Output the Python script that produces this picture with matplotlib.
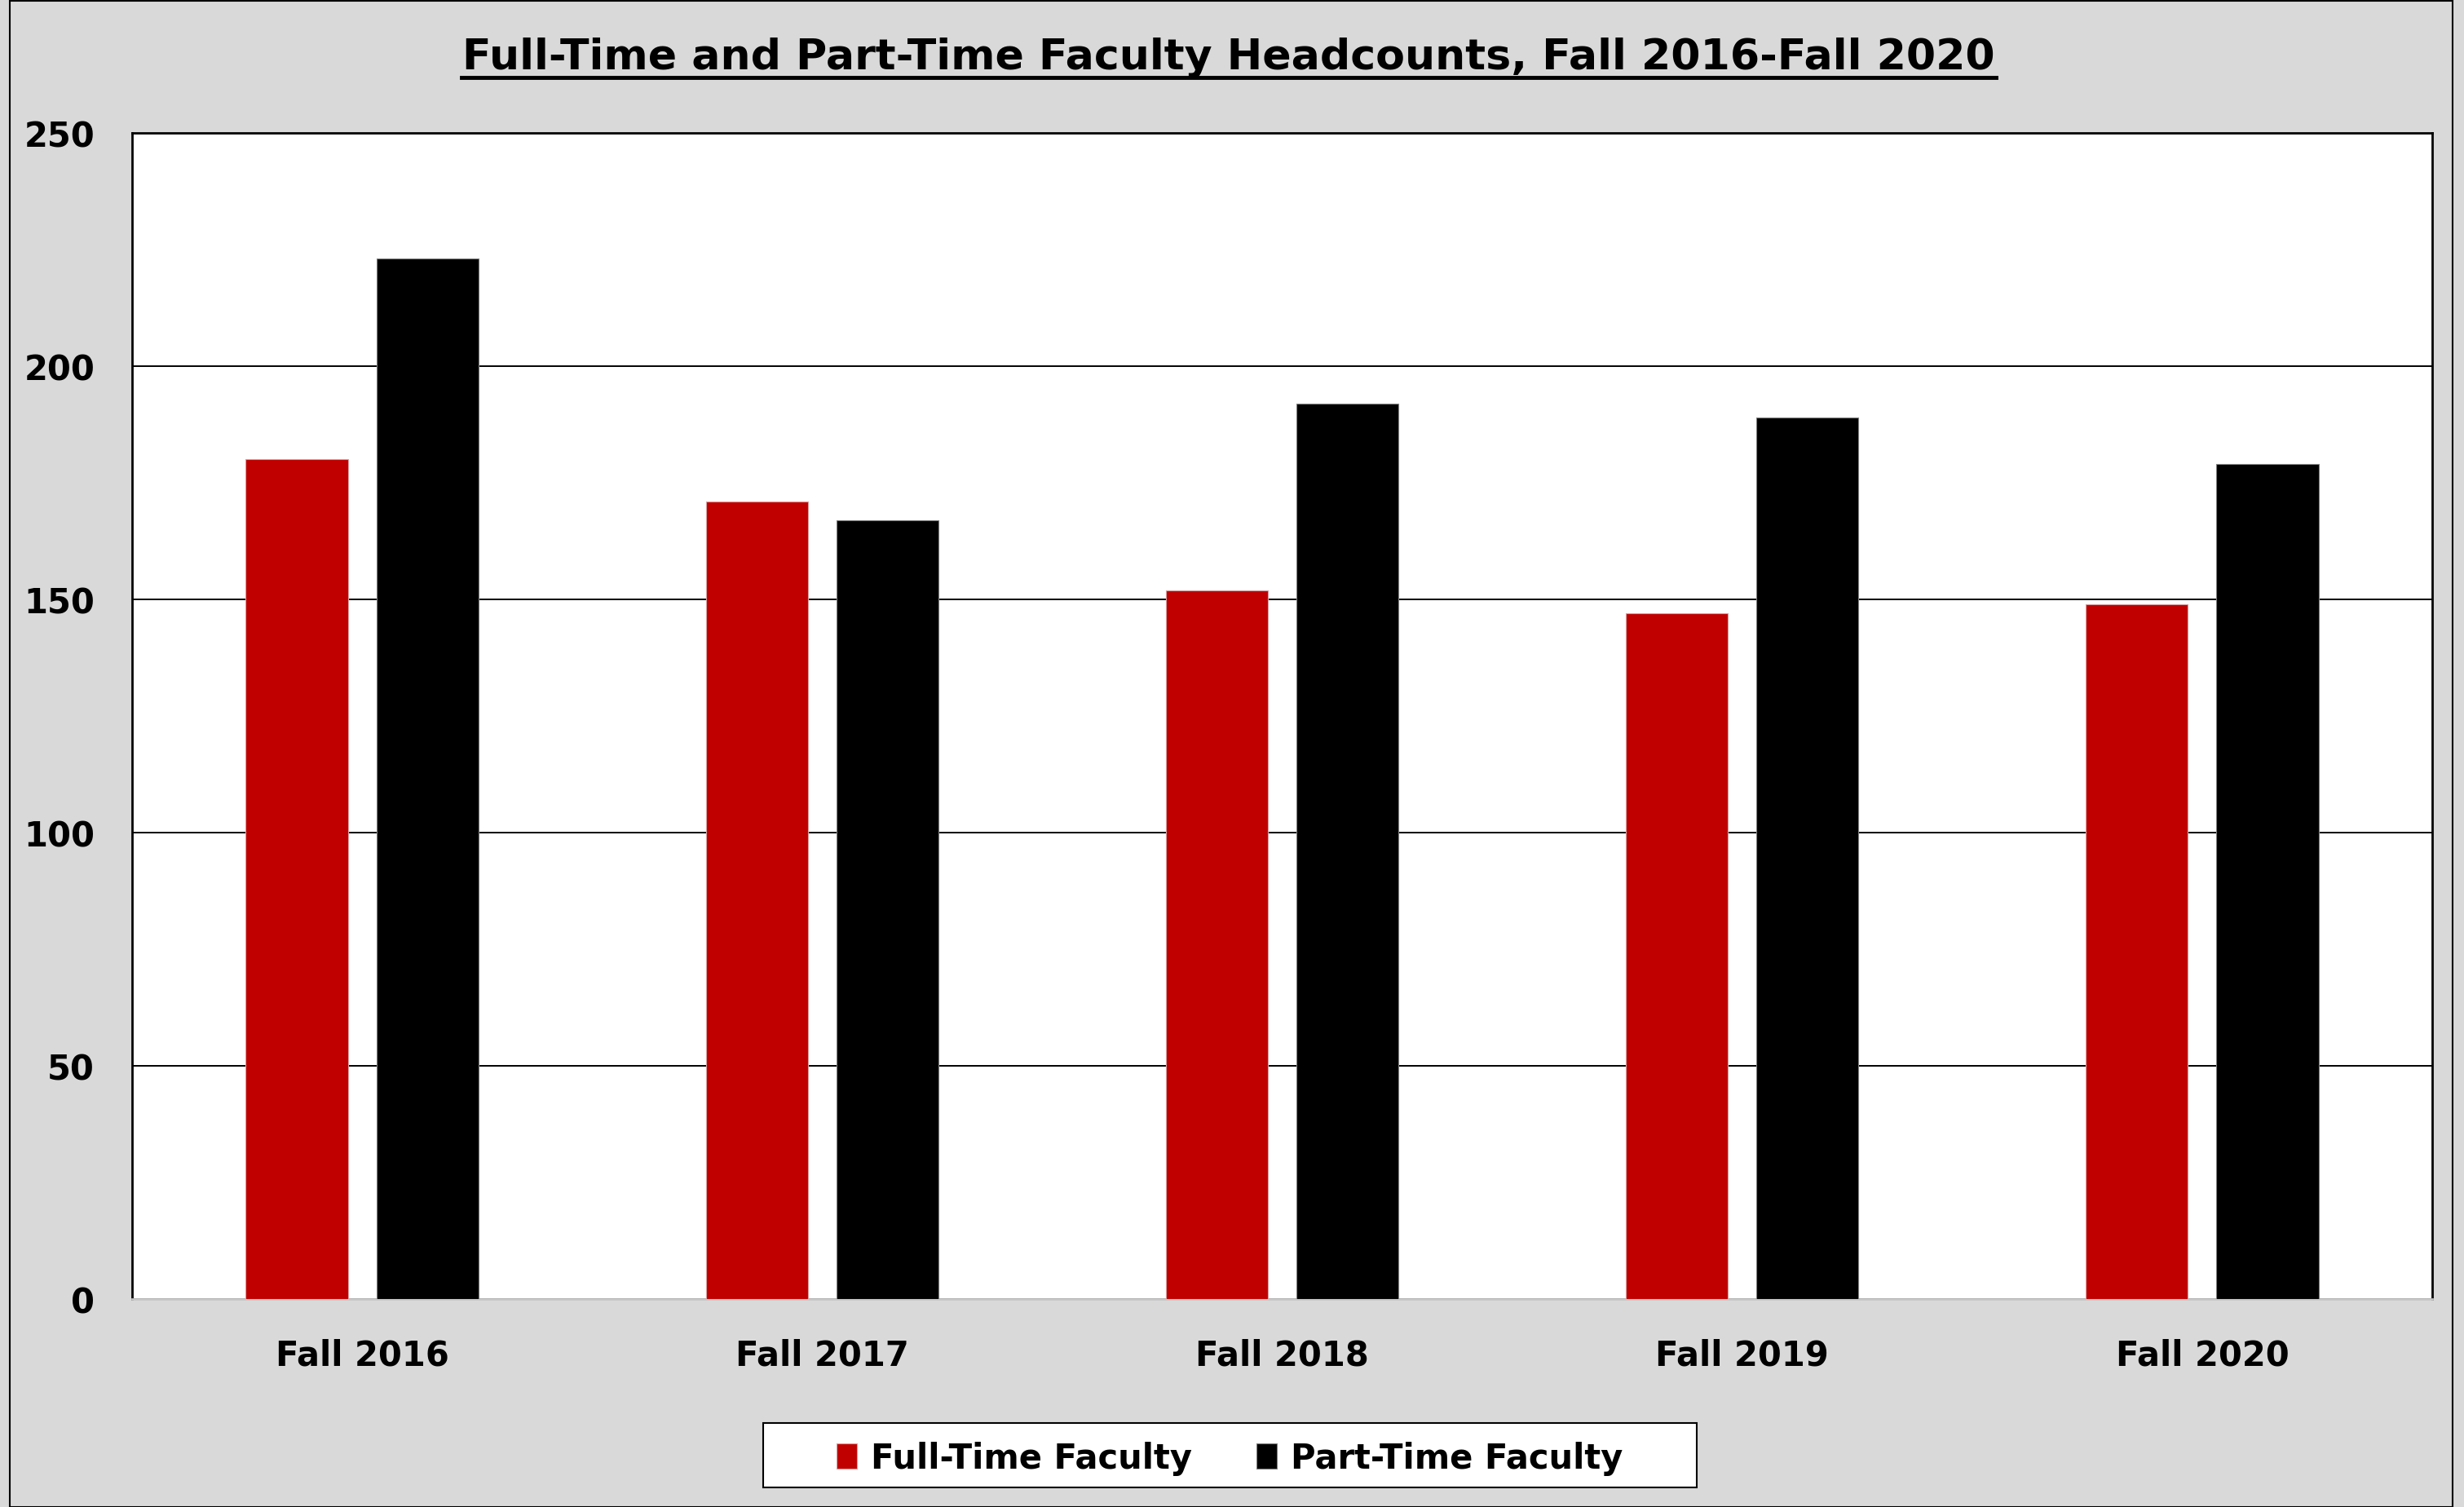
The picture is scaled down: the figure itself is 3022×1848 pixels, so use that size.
import matplotlib.pyplot as plt
import numpy as np
from matplotlib.patches import Rectangle

# faculty headcounts per fall term
terms = ["Fall 2016", "Fall 2017", "Fall 2018", "Fall 2019", "Fall 2020"]
full_time = [180, 171, 152, 147, 149]
part_time = [223, 167, 192, 189, 179]
yticks = [0, 50, 100, 150, 200, 250]

plt.rcParams["font.family"] = ["DejaVu Sans"]
plt.rcParams["font.weight"] = "bold"

W, H = 3022, 1849
fig = plt.figure(figsize=(W / 100, H / 100), dpi=100, facecolor="#d9d9d9")
ax = fig.add_axes([162 / W, 1 - 1594 / H, (2983 - 162) / W, (1594 - 164) / H])
ax.set_facecolor("white")

# outer chart border
fig.patches.append(Rectangle((12 / W, 0), (3008 - 12) / W, 1 - 2 / H,
                             transform=fig.transFigure, fill=False,
                             edgecolor="black", linewidth=1.5))

x = np.arange(len(terms))
width = 0.222
ax.bar(x - 0.142, full_time, width, color="#c00000", edgecolor="#d9a0a0",
       linewidth=0.8, label="Full-Time Faculty", zorder=3)
ax.bar(x + 0.142, part_time, width, color="black", edgecolor="#808080",
       linewidth=0.8, label="Part-Time Faculty", zorder=3)

ax.set_xlim(-0.5, len(terms) - 0.5)
ax.set_ylim(0, 250)
ax.set_yticks(yticks)
ax.set_xticks(x)
ax.set_xticklabels(terms)
ax.yaxis.grid(True, color="black", linewidth=1.4, zorder=0)
ax.tick_params(axis="both", length=0, labelsize=30)
ax.tick_params(axis="y", pad=33)
ax.tick_params(axis="x", pad=34)
for side in ["top", "left", "right"]:
    ax.spines[side].set_linewidth(2)
    ax.spines[side].set_color("black")
ax.spines["bottom"].set_color("#c8c8c8")
ax.spines["bottom"].set_linewidth(2)

fig.text(1507 / W, 1 - 71 / H, "Full-Time and Part-Time Faculty Headcounts, Fall 2016-Fall 2020",
         ha="center", va="center", fontsize=37.5, fontweight="bold")
# underline for the title
fig.add_artist(plt.Line2D([566 / W, 2448 / W], [1 - 96 / H, 1 - 96 / H],
                          color="black", linewidth=3.5))

# legend box drawn separately so it can be wider than the entries
fig.patches.append(Rectangle((936 / W, 1 - 1825 / H), (2081 - 936) / W, (1825 - 1746) / H,
                             transform=fig.transFigure, facecolor="white",
                             edgecolor="black", linewidth=1.5, zorder=1))
leg = fig.legend(loc="center", bbox_to_anchor=(1508 / W, 1 - 1789 / H),
                 ncol=2, fontsize=30, frameon=False,
                 handlelength=0.6, handleheight=0.75, handletextpad=0.4,
                 columnspacing=1.9, borderpad=0.35, borderaxespad=0)
leg.set_zorder(5)

plt.savefig("out.png", dpi=100, facecolor=fig.get_facecolor())
